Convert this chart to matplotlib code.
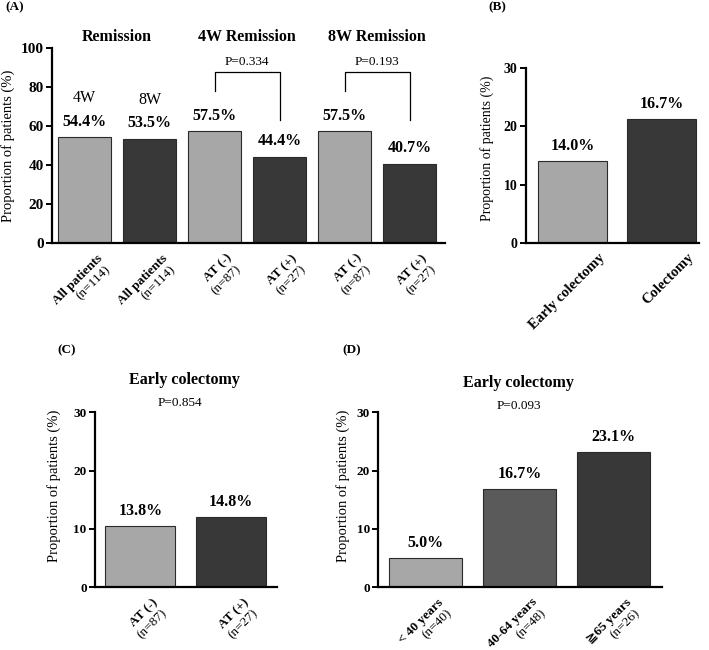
import numpy as np
import matplotlib
matplotlib.use('Agg')
import matplotlib.pyplot as plt

plt.rcParams['font.family'] = ['Liberation Serif', 'DejaVu Serif', 'DejaVu Sans', 'Noto Sans CJK JP']

LIGHT = '#a7a7a7'
MID = '#5a5a5a'
DARK = '#383838'

# (A) remission
a_line1 = ['All patients', 'All patients', 'AT (-)', 'AT (+)', 'AT (-)', 'AT (+)']
a_line2 = ['(n=114)', '(n=114)', '(n=87)', '(n=27)', '(n=87)', '(n=27)']
a_vals = [54.4, 53.5, 57.5, 44.4, 57.5, 40.7]
a_labels = ['54.4%', '53.5%', '57.5%', '44.4%', '57.5%', '40.7%']
a_colors = [LIGHT, DARK, LIGHT, DARK, LIGHT, DARK]
a_week = ['4W', '8W']
a_groups = ['Remission', '4W Remission', '8W Remission']
a_pvals = ['P=0.334', 'P=0.193']

# (B) colectomy
b_cats = ['Early colectomy', 'Colectomy']
b_vals = [14.0, 21.2]
b_labels = ['14.0%', '16.7%']
b_colors = [LIGHT, DARK]

# (C) early colectomy by AT
c_line1 = ['AT (-)', 'AT (+)']
c_line2 = ['(n=87)', '(n=27)']
c_vals = [10.5, 12.0]
c_labels = ['13.8%', '14.8%']
c_colors = [LIGHT, DARK]
c_p = 'P=0.854'

# (D) early colectomy by age
d_line1 = ['< 40 years', '40-64 years', '\u226765 years']
d_line2 = ['(n=40)', '(n=48)', '(n=26)']
d_vals = [5.0, 16.8, 23.2]
d_labels = ['5.0%', '16.7%', '23.1%']
d_colors = [LIGHT, MID, DARK]
d_p = 'P=0.093'


def setup(ax, ymax, step, tick_size):
    for s in ['top', 'right']:
        ax.spines[s].set_visible(False)
    for s in ['left', 'bottom']:
        ax.spines[s].set_linewidth(1.6)
    ax.set_ylim(0, ymax)
    ticks = np.arange(0, ymax + 1, step)
    ax.set_yticks(ticks, labels=[str(t) for t in ticks], fontweight='bold', fontsize=tick_size)
    ax.tick_params(axis='y', direction='out', length=4, width=1.4, pad=2)
    ax.tick_params(axis='x', length=0, labelbottom=False)


def bars(ax, vals, labels, colors, width):
    x = np.arange(len(vals))
    ax.bar(x, vals, width=width, color=colors, edgecolor='#2a2a2a', linewidth=0.8)
    for i, (v, s) in enumerate(zip(vals, labels)):
        ax.annotate(s, xy=(i, v), xytext=(0, 11), textcoords='offset points',
                    ha='center', va='center', fontweight='bold', fontsize=11.5)
    return x


def two_line_labels(ax, line1, line2, size=9.5):
    for i, (l1, l2) in enumerate(zip(line1, line2)):
        ax.annotate(l1, xy=(i, 0), xycoords=('data', 'axes fraction'),
                    xytext=(11.5, -9.5), textcoords='offset points',
                    rotation=45, rotation_mode='anchor', ha='right', va='center',
                    fontweight='bold', fontsize=size)
        ax.annotate(l2, xy=(i, 0), xycoords=('data', 'axes fraction'),
                    xytext=(17.5, -17.5), textcoords='offset points',
                    rotation=45, rotation_mode='anchor', ha='right', va='center',
                    fontsize=size)


fig = plt.figure(figsize=(7.09, 6.5), dpi=100)

# ---- (A)
axA = fig.add_axes([0.0733, 0.626, 0.554, 0.300])
setup(axA, 100, 20, 11)
bars(axA, a_vals, a_labels, a_colors, 0.814)
axA.set_xlim(-0.5, 5.54)
for i, w in enumerate(a_week):
    axA.annotate(w, xy=(i, a_vals[i]), xytext=(0, 28), textcoords='offset points',
                 ha='center', va='center', fontsize=11.5)
for g, name in enumerate(a_groups):
    axA.text(2 * g + 0.5, 105.6, name, ha='center', va='center',
             fontweight='bold', fontsize=11.5, clip_on=False)
for k, p in enumerate(a_pvals):
    left, right = 2 * k + 2, 2 * k + 3
    axA.plot([left, left, right, right], [78, 88, 88, 63], color='black', lw=0.9)
    axA.text((left + right) / 2, 92.8, p, ha='center', va='center', fontsize=9.5)
two_line_labels(axA, a_line1, a_line2)
axA.set_ylabel('Proportion of patients (%)', fontsize=10.5)
axA.yaxis.set_label_coords(-0.094, 0.5)

# ---- (B)
axB = fig.add_axes([0.7415, 0.6266, 0.2444, 0.2683])
setup(axB, 30, 10, 10)
bars(axB, b_vals, b_labels, b_colors, 0.775)
axB.set_xlim(-0.53, 1.42)
for i, name in enumerate(b_cats):
    axB.annotate(name, xy=(i, 0), xycoords=('data', 'axes fraction'),
                 xytext=(21.4, -9.2), textcoords='offset points',
                 rotation=45, rotation_mode='anchor', ha='right', va='center',
                 fontweight='bold', fontsize=10.5)
axB.set_ylabel('Proportion of patients (%)', fontsize=10)
axB.yaxis.set_label_coords(-0.183, 0.54)

# ---- (C)
axC = fig.add_axes([0.134, 0.0965, 0.2563, 0.2692])
setup(axC, 30, 10, 9.5)
bars(axC, c_vals, c_labels, c_colors, 0.77)
axC.set_xlim(-0.5, 1.5)
two_line_labels(axC, c_line1, c_line2)
axC.text(0.49, 1.185, 'Early colectomy', transform=axC.transAxes, ha='center',
         va='center', fontweight='bold', fontsize=11.5)
axC.text(0.47, 1.053, c_p, transform=axC.transAxes, ha='center', va='center', fontsize=9.5)
axC.set_ylabel('Proportion of patients (%)', fontsize=10.5)
axC.yaxis.set_label_coords(-0.187, 0.58)

# ---- (D)
axD = fig.add_axes([0.5336, 0.0965, 0.3997, 0.2692])
setup(axD, 30, 10, 9.5)
bars(axD, d_vals, d_labels, d_colors, 0.777)
axD.set_xlim(-0.505, 2.51)
two_line_labels(axD, d_line1, d_line2)
axD.text(0.493, 1.167, 'Early colectomy', transform=axD.transAxes, ha='center',
         va='center', fontweight='bold', fontsize=11.5)
axD.text(0.496, 1.036, d_p, transform=axD.transAxes, ha='center', va='center', fontsize=9.5)
axD.set_ylabel('Proportion of patients (%)', fontsize=10.5)
axD.yaxis.set_label_coords(-0.1, 0.58)

# panel letters
for (x, y), s in zip([(0.021, 0.989), (0.701, 0.989), (0.094, 0.4605), (0.4965, 0.4615)],
                     ['(A)', '(B)', '(C)', '(D)']):
    fig.text(x, y, s, ha='center', va='center', fontweight='bold', fontsize=9.5)

fig.savefig('out.png', dpi=100)
